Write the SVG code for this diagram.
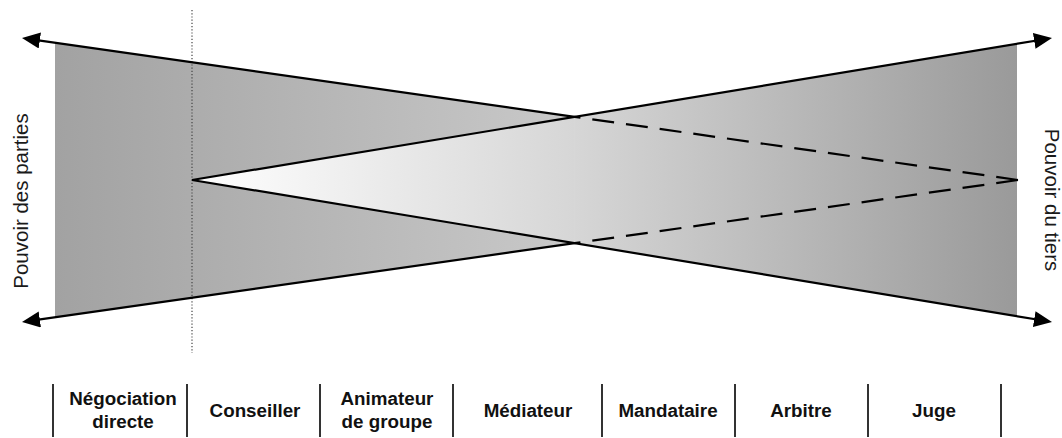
<svg xmlns="http://www.w3.org/2000/svg" width="1062" height="438" viewBox="0 0 1062 438">
  <style>
    .line { stroke: #000; stroke-width: 2.2; fill: none; }
    .dash { stroke: #000; stroke-width: 2.2; fill: none; stroke-dasharray: 22 12; }
    .dot { stroke: #444; stroke-width: 1.2; fill: none; stroke-dasharray: 1.2 2; }
    .sep { stroke: #333; stroke-width: 2; }
    .axis { font-family: "Liberation Sans", Arial, sans-serif; font-size: 20.5px; fill: #1a1a1a; }
    .cell { font-family: "Liberation Sans", Arial, sans-serif; font-size: 18.8px; font-weight: bold; fill: #111; text-anchor: middle; }
  </style>
  <defs>
    <linearGradient id="gLeft" gradientUnits="userSpaceOnUse" x1="55" y1="0" x2="575" y2="0">
      <stop offset="0" stop-color="#a2a2a2"/>
      <stop offset="1" stop-color="#c9c9c9"/>
    </linearGradient>
    <linearGradient id="gInner" gradientUnits="userSpaceOnUse" x1="192" y1="0" x2="575" y2="0">
      <stop offset="0" stop-color="#ffffff"/>
      <stop offset="1" stop-color="#d6d6d6"/>
    </linearGradient>
    <linearGradient id="gRight" gradientUnits="userSpaceOnUse" x1="575" y1="0" x2="1017" y2="0">
      <stop offset="0" stop-color="#d6d6d6"/>
      <stop offset="1" stop-color="#9a9a9a"/>
    </linearGradient>
    <marker id="arrow" markerUnits="userSpaceOnUse" markerWidth="20" markerHeight="18" refX="12" refY="8" orient="auto">
      <path d="M0,0 L18,8 L0,16 z" fill="#000"/>
    </marker>
  </defs>

  <g id="fill-area">
    <polygon points="55,42.7 574.7,116.8 574.7,243.2 55,317.3" fill="url(#gLeft)"/>
    <polygon points="192,180 574.7,116.8 574.7,243.2" fill="url(#gInner)"/>
    <polygon points="574.7,116.8 1017,43.8 1017,316.2 574.7,243.2" fill="url(#gRight)"/>
  </g>

  <line class="dot" x1="192" y1="10" x2="192" y2="353"/>

  <g id="connectors">
    <line class="line" x1="574.7" y1="116.8" x2="27.94" y2="38.85" marker-end="url(#arrow)"/>
    <line class="line" x1="574.7" y1="243.2" x2="27.94" y2="321.15" marker-end="url(#arrow)"/>
    <line class="line" x1="192" y1="180" x2="1046.08" y2="38.98" marker-end="url(#arrow)"/>
    <line class="line" x1="192" y1="180" x2="1046.08" y2="321.02" marker-end="url(#arrow)"/>
    <line class="dash" x1="1018" y1="180" x2="574.7" y2="116.8"/>
    <line class="dash" x1="1018" y1="180" x2="574.7" y2="243.2"/>
  </g>

  <g id="label-parties">
    <text class="axis" transform="translate(28,201) rotate(-90)" text-anchor="middle">Pouvoir des parties</text>
  </g>
  <g id="label-tiers">
    <text class="axis" transform="translate(1045,200) rotate(90)" text-anchor="middle">Pouvoir du tiers</text>
  </g>

  <g id="separators">
    <line class="sep" x1="53" y1="384" x2="53" y2="437"/>
    <line class="sep" x1="187" y1="384" x2="187" y2="437"/>
    <line class="sep" x1="320" y1="384" x2="320" y2="437"/>
    <line class="sep" x1="453" y1="384" x2="453" y2="437"/>
    <line class="sep" x1="602" y1="384" x2="602" y2="437"/>
    <line class="sep" x1="735" y1="384" x2="735" y2="437"/>
    <line class="sep" x1="868" y1="384" x2="868" y2="437"/>
    <line class="sep" x1="1001" y1="384" x2="1001" y2="437"/>
  </g>

  <g id="node-negociation"><text class="cell" x="123" y="405">Négociation</text><text class="cell" x="123" y="428">directe</text></g>
  <g id="node-conseiller"><text class="cell" x="255" y="417">Conseiller</text></g>
  <g id="node-animateur"><text class="cell" x="387" y="405">Animateur</text><text class="cell" x="387" y="428">de groupe</text></g>
  <g id="node-mediateur"><text class="cell" x="528" y="417">Médiateur</text></g>
  <g id="node-mandataire"><text class="cell" x="668" y="417">Mandataire</text></g>
  <g id="node-arbitre"><text class="cell" x="801" y="417">Arbitre</text></g>
  <g id="node-juge"><text class="cell" x="934" y="417">Juge</text></g>
</svg>
